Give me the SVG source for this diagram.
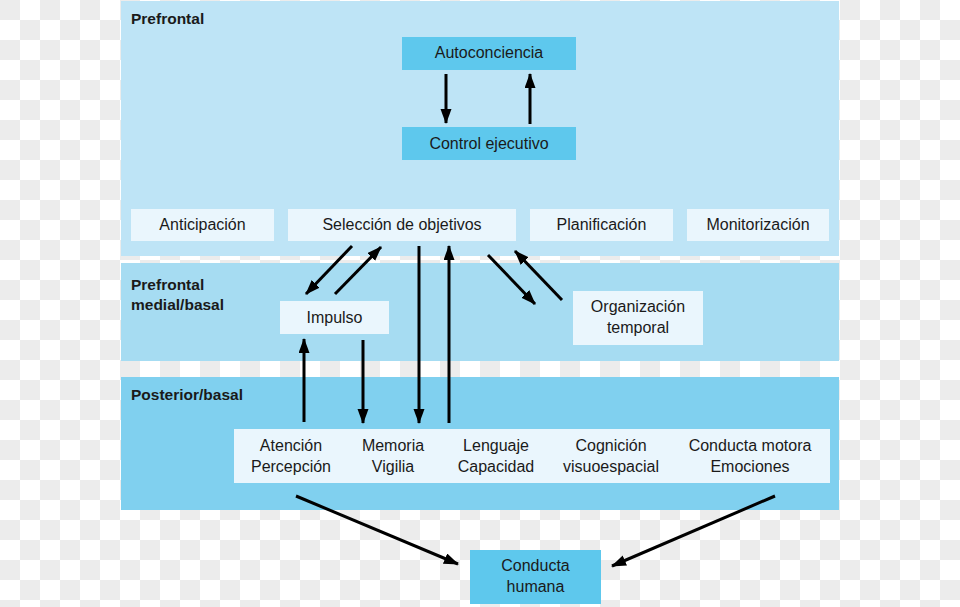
<svg xmlns="http://www.w3.org/2000/svg" width="960" height="607" viewBox="0 0 960 607">
<style>
.t{font-family:"Liberation Sans",Arial,sans-serif;font-size:16px;fill:#1a1a1a;text-anchor:middle}
.h{font-family:"Liberation Sans",Arial,sans-serif;font-size:15.5px;font-weight:bold;fill:#1a1a1a}
.dark{fill:#5ec8ed}
.light{fill:#eaf6fd}
.c{stroke:#000;stroke-width:3;fill:none;marker-end:url(#ah)}
</style>
<defs>
<pattern id="chk" width="40" height="40" patternUnits="userSpaceOnUse">
<rect width="40" height="40" fill="#ffffff"/>
<rect width="20" height="20" fill="#ececec"/>
<rect x="20" y="20" width="20" height="20" fill="#ececec"/>
</pattern>
<marker id="ah" markerUnits="userSpaceOnUse" markerWidth="16" markerHeight="12" refX="14" refY="5.5" orient="auto">
<path d="M0,0 L15,5.5 L0,11 Z" fill="#000"/>
</marker>
</defs>
<rect width="960" height="607" fill="url(#chk)"/>
<g id="bands">
<rect x="121" y="1" width="718" height="255" fill="#bee4f6"/>
<rect x="121" y="263" width="718" height="98" fill="#a6dcf2"/>
<rect x="121" y="377" width="718" height="133" fill="#80d0ef"/>
<text class="h" x="131" y="24">Prefrontal</text>
<text class="h" x="131" y="290">Prefrontal</text>
<text class="h" x="131" y="310">medial/basal</text>
<text class="h" x="131" y="400">Posterior/basal</text>
</g>
<g id="autoconciencia"><rect class="dark" x="402" y="37" width="174" height="33"/><text class="t" x="489" y="58">Autoconciencia</text></g>
<g id="control"><rect class="dark" x="402" y="127" width="174" height="33"/><text class="t" x="489" y="149">Control ejecutivo</text></g>
<g id="anticipacion"><rect class="light" x="131" y="209" width="143" height="32"/><text class="t" x="202.5" y="230">Anticipación</text></g>
<g id="seleccion"><rect class="light" x="288" y="209" width="228" height="32"/><text class="t" x="402" y="230">Selección de objetivos</text></g>
<g id="planificacion"><rect class="light" x="530" y="209" width="143" height="32"/><text class="t" x="601.5" y="230">Planificación</text></g>
<g id="monitorizacion"><rect class="light" x="687" y="209" width="142" height="32"/><text class="t" x="758" y="230">Monitorización</text></g>
<g id="impulso"><rect class="light" x="280" y="301" width="109" height="33"/><text class="t" x="334.5" y="323">Impulso</text></g>
<g id="organizacion"><rect class="light" x="573" y="291" width="130" height="54"/><text class="t" x="638" y="312">Organización</text><text class="t" x="638" y="333">temporal</text></g>
<g id="posterior"><rect class="light" x="234" y="429" width="596" height="54"/>
<text class="t" x="291" y="451">Atención</text><text class="t" x="291" y="472">Percepción</text>
<text class="t" x="393" y="451">Memoria</text><text class="t" x="393" y="472">Vigilia</text>
<text class="t" x="496" y="451">Lenguaje</text><text class="t" x="496" y="472">Capacidad</text>
<text class="t" x="611" y="451">Cognición</text><text class="t" x="611" y="472">visuoespacial</text>
<text class="t" x="750" y="451">Conducta motora</text><text class="t" x="750" y="472">Emociones</text>
</g>
<g id="conducta"><rect class="dark" x="470" y="550" width="131" height="54"/><text class="t" x="535.5" y="571">Conducta</text><text class="t" x="535.5" y="592">humana</text></g>
<g id="connectors">
<line class="c" x1="446" y1="74" x2="446" y2="123"/>
<line class="c" x1="530" y1="124" x2="530" y2="74"/>
<line class="c" x1="352" y1="246" x2="306" y2="294"/>
<line class="c" x1="335" y1="294" x2="381" y2="247"/>
<line class="c" x1="419" y1="246" x2="419" y2="423"/>
<line class="c" x1="449" y1="423" x2="449" y2="246"/>
<line class="c" x1="488" y1="255" x2="535" y2="304"/>
<line class="c" x1="562" y1="300" x2="515" y2="251"/>
<line class="c" x1="304" y1="422" x2="304" y2="339"/>
<line class="c" x1="363" y1="340" x2="363" y2="423"/>
<line class="c" x1="296" y1="496" x2="458" y2="564"/>
<line class="c" x1="775" y1="496" x2="612" y2="566"/>
</g>
</svg>
